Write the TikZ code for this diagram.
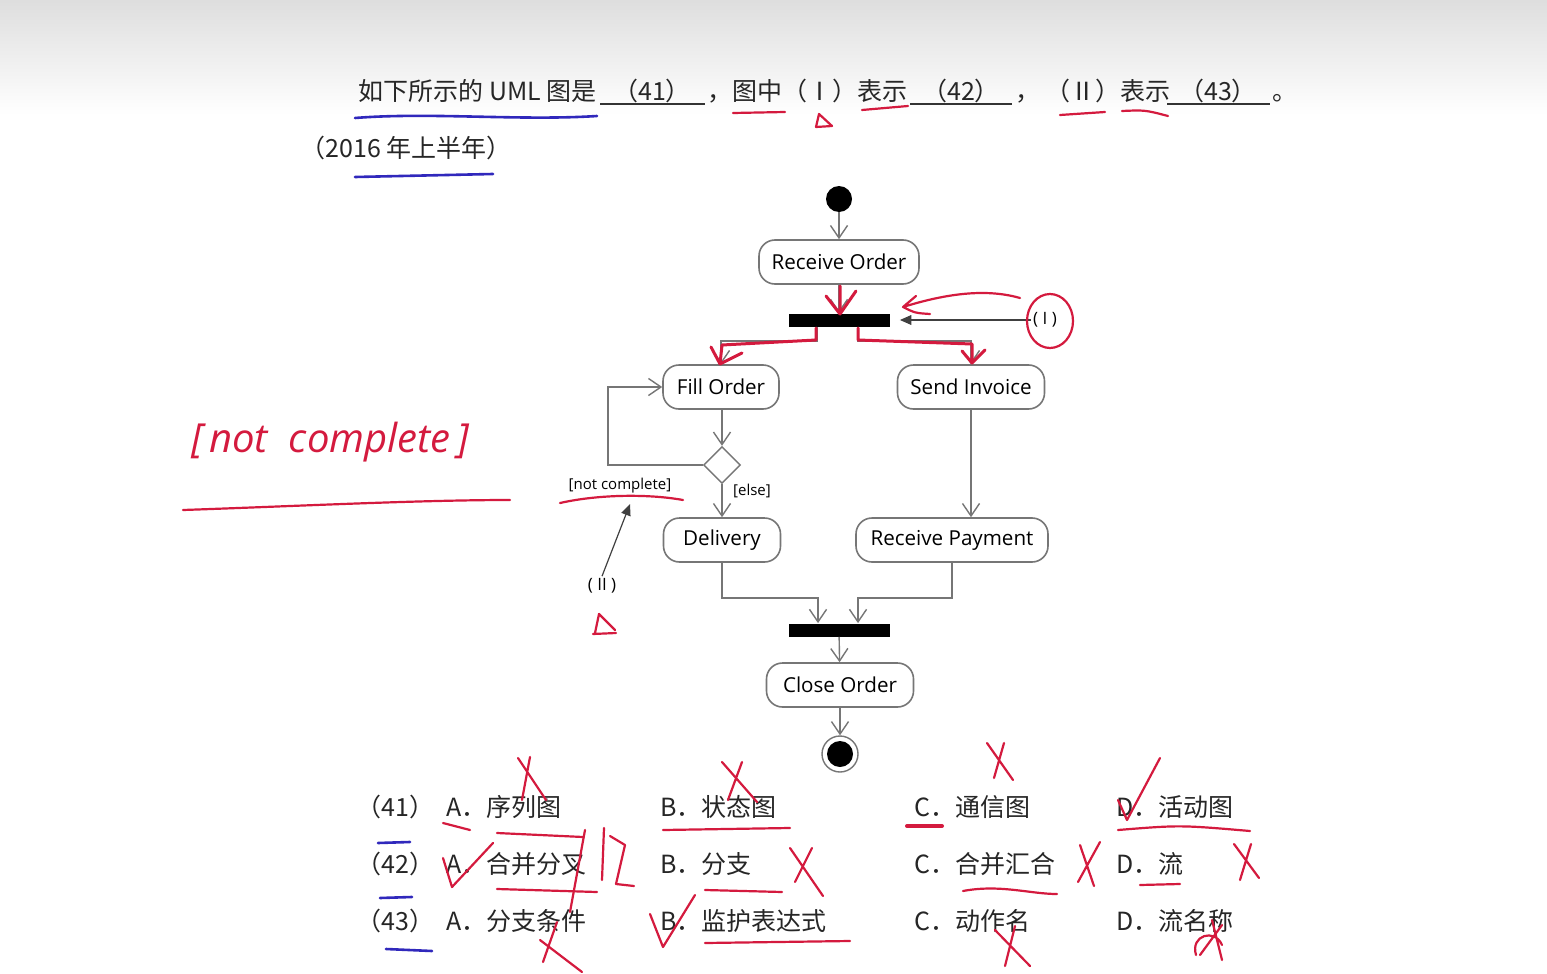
\documentclass[tikz,border=0pt]{standalone}
\usepackage{fontspec}
\setmainfont{Open Sans}
\newfontfamily\cjk{Noto Sans CJK SC}
\usetikzlibrary{shapes.geometric,arrows.meta,positioning,calc}
\definecolor{linegray}{RGB}{118,118,118}
\definecolor{penred}{RGB}{212,26,62}
\definecolor{penblue}{RGB}{48,40,188}

\begin{document}
\begin{tikzpicture}[
  x=0.5pt, y=-0.5pt,
  every node/.style={font=\fontsize{10.3}{12}\selectfont},
  action/.style ={rectangle, draw=linegray, line width=0.8pt, rounded corners=8pt,
                  minimum height=22pt, inner xsep=4pt},
  bar/.style    ={rectangle, fill=black, minimum width=50.5pt, minimum height=6.5pt, inner sep=0pt},
  flow/.style   ={draw=linegray, line width=0.7pt, -{Straight Barb[length=2.2mm,width=3mm]}},
  note/.style   ={draw=black!75, line width=0.6pt, -{Triangle[length=2mm,width=1.7mm]}},
  guard/.style  ={font=\fontsize{7.5}{9}\selectfont, inner sep=1pt},
  qtext/.style  ={font=\cjk\fontsize{12.5}{15}\selectfont, text=black!85, anchor=base west, inner sep=0pt},
  pen/.style    ={draw=penred, line width=1.1pt, line cap=round, line join=round},
  bluepen/.style={draw=penblue, line width=1.3pt, line cap=round}
]
\useasboundingbox (0,0) rectangle (1547,974);
\fill[white] (0,0) rectangle (1547,974);
\shade[top color=black!13, bottom color=white] (0,0) rectangle (1547,115);

% question text
\node[qtext] (q1) at (358,101) {如下所示的 UML 图是};
\node[qtext, anchor=base] (b41) at (652,101) {（41）};
\node[qtext] (c1) at (707,101) {，};
\node[qtext] (q2) at (732,101) {图中（Ⅰ）表示};
\node[qtext, anchor=base] (b42) at (961,101) {（42）};
\node[qtext] (c2) at (1015,101) {，};
\node[qtext] (q3) at (1045,101) {（Ⅱ）表示};
\node[qtext, anchor=base] (b43) at (1218,101) {（43）};
\node[qtext] (c3) at (1272,101) {。};
\draw[black!80, line width=0.6pt] (600,104) -- (705,104) (910,104) -- (1012,104) (1167,104) -- (1270,104);
\node[qtext] (year) at (300,157) {（2016 年上半年）};

% activity diagram
\node[circle, fill=black, minimum size=13pt, inner sep=0pt] (start) at (839,199) {};
\node[action, minimum width=80pt] (recv) at (839,262) {Receive Order};
\node[bar] (fork) at (839,320) {};
\node[action, minimum width=58pt] (fill) at (721,387) {Fill Order};
\node[action, minimum width=73.5pt] (invoice) at (971,387) {Send Invoice};
\node[diamond, draw=linegray, line width=0.7pt, minimum size=18.5pt, inner sep=0pt] (dec) at (722,465) {};
\node[action, minimum width=58.5pt] (deliv) at (722,540) {Delivery};
\node[action, minimum width=96pt] (pay) at (952,540) {Receive Payment};
\node[bar] (join) at (839,630) {};
\node[action, minimum width=73.5pt] (close) at (840,685) {Close Order};
\node[circle, draw=linegray, line width=0.7pt, minimum size=18pt, inner sep=0pt] (final) at (840,754) {};
\node[circle, fill=black, minimum size=13pt, inner sep=0pt] (finaldot) at (final) {};

\draw[flow] (start) -- (recv);
\draw[flow] (recv) -- (fork);
\draw[flow] ([xshift=-11pt]fork.south) -- ++(0,14) -| (fill.north);
\draw[flow] ([xshift=9.5pt]fork.south) -- ++(0,14) -| (invoice.north);
\draw[flow] (fill.south -| dec) -- (dec);
\draw[flow] (dec.west) -- ++(-95,0) |- (fill.west);
\draw[flow] (dec) -- (deliv);
\draw[flow] (invoice.south) -- (invoice.south |- pay.north);
\draw[flow] (deliv.south) -- ++(0,35) -| ([xshift=-10.5pt]join.north);
\draw[flow] (pay.south) -- ++(0,35) -| ([xshift=9.5pt]join.north);
\draw[flow] (join) -- (close);
\draw[flow] (close) -- (final);

\node[guard] (notc) at (620,486) {[not complete]};
\node[guard] (else) at (752,491) {[else]};

\node[guard, font=\fontsize{8.5}{10}\selectfont] (labI) at (1045,320) {( I )};
\draw[note] (labI.west) -- ([xshift=5pt]fork.east);
\node[guard, font=\fontsize{8.5}{10}\selectfont] (labII) at (602,586) {( II )};
\coordinate (tipII) at (630,504);
\draw[note] (labII.north) -- (tipII);

% answer choices
\foreach \row/\num/\a/\b/\c/\d in {
    816/41/序列图/状态图/通信图/活动图,
    873/42/合并分叉/分支/合并汇合/流,
    930/43/分支条件/监护表达式/动作名/流名称} {
  \node[qtext] (n\num) at (356,\row) {（\num）};
  \node[qtext] (a\num) at (446,\row) {A．\a};
  \node[qtext] (b\num) at (660,\row) {B．\b};
  \node[qtext] (c\num) at (914,\row) {C．\c};
  \node[qtext] (d\num) at (1116,\row) {D．\d};
}

% pen marks
\draw[bluepen] (355,118) .. controls (430,112) and (520,121) .. (597,116);
\draw[bluepen] (355,177) -- (493,174);
\draw[bluepen] (378,843) -- (410,842) (380,898) -- (412,897) (386,949) -- (432,951);

\draw[pen] (733,113) -- (785,112) (862,110) -- (908,106) (1060,115) -- (1105,112) (1122,111) .. controls (1145,110) .. (1168,116);
\draw[pen] (816,127) -- (819,114) -- (832,126) -- cycle;

\draw[pen, line width=1.5pt] (840,286) -- (840,314) (826,296) -- (840,314) -- (856,291);
\draw[pen, line width=1.5pt] (816,328) -- (816,340) -- (722,345) -- (720,364) (711,347) -- (720,364) -- (742,353);
\draw[pen, line width=1.5pt] (858,328) -- (858,340) -- (972,344) -- (972,363) (962,351) -- (972,363) -- (985,350);
\draw[pen] (1020,298) .. controls (985,288) and (945,294) .. (903,307) (903,307) -- (916,296) (903,307) .. controls (915,313) .. (930,314);
\draw[pen] (1050,321) ellipse (23 and 27);

\draw[pen] (560,503) .. controls (600,494) and (650,494) .. (683,500);
\draw[pen] (595,633) -- (599,614) (599,614) -- (615,630) (593,634) -- (616,633);

\node[text=penred, font=\itshape\fontsize{20}{22}\selectfont, inner sep=0pt] (hand) at (330,442) {[\,not \ complete\,]};
\draw[pen] (183,510) .. controls (300,506) and (420,500) .. (510,500);

% (41)
\draw[pen] (518,758) -- (546,800) (530,757) -- (522,800);
\draw[pen] (443,823) -- (470,830) (497,833) -- (583,837);
\draw[pen] (722,762) -- (757,802) (742,762) -- (728,800);
\draw[pen] (663,830) -- (790,828);
\draw[pen] (987,743) -- (1013,780) (1004,743) -- (994,778);
\draw[pen, line width=2pt] (907,826) -- (942,826);
\draw[pen] (1118,800) -- (1127,820) -- (1160,758);
\draw[pen] (1118,830) .. controls (1180,825) .. (1250,831);
% (42)
\draw[pen] (443,858) -- (452,887) -- (493,843);
\draw[pen] (585,830) -- (570,912);
\draw[pen] (604,828) -- (602,880) (610,836) -- (625,845) -- (616,884) -- (634,886);
\draw[pen] (497,889) -- (597,892);
\draw[pen] (790,848) -- (823,896) (812,848) -- (795,882);
\draw[pen] (705,890) -- (782,892);
\draw[pen] (963,891) .. controls (1000,884) and (1030,894) .. (1057,894);
\draw[pen] (1080,845) -- (1094,886) (1100,842) -- (1078,882);
\draw[pen] (1140,885) -- (1180,884);
\draw[pen] (1234,844) -- (1259,878) (1251,844) -- (1240,880);
% (43)
\draw[pen] (557,922) -- (543,962) (540,940) -- (582,972);
\draw[pen] (650,914) -- (663,947) -- (695,895);
\draw[pen] (705,943) -- (850,941);
\draw[pen] (995,930) -- (1030,966) (1015,926) -- (1005,966);
\draw[pen] (1196,955) .. controls (1190,935) and (1215,928) .. (1222,945) (1212,920) -- (1222,960) (1222,925) -- (1200,955);
\end{tikzpicture}
\end{document}
